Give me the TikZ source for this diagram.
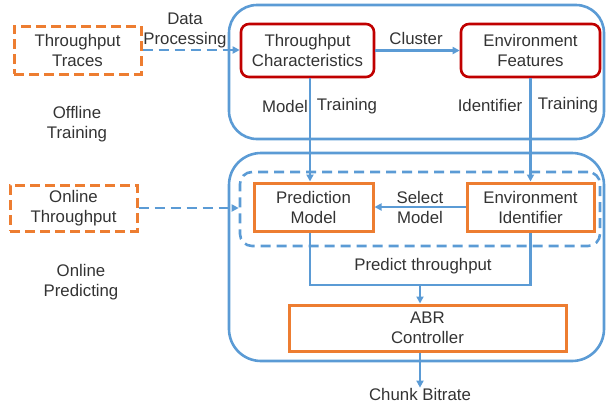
\documentclass[tikz,border=0pt]{standalone}
\usepackage{fontspec}
\setmainfont{Liberation Sans}
\usetikzlibrary{arrows.meta}
\definecolor{cblue}{HTML}{5B9BD5}
\definecolor{corange}{HTML}{ED7D31}
\definecolor{cred}{HTML}{C00000}
\definecolor{ctext}{HTML}{333333}
\begin{document}
\begin{tikzpicture}[x=1pt,y=-1pt,
  every node/.style={text=ctext,font=\fontsize{16.8}{20}\selectfont,align=center,inner sep=0pt},
  group/.style={draw=cblue,line width=2.6pt,rounded corners=28pt},
  redbox/.style={draw=cred,line width=2.6pt,rounded corners=8pt},
  orbox/.style={draw=corange,line width=3pt},
  ordash/.style={draw=corange,line width=3pt,dash pattern=on 10pt off 5pt},
  barrow/.style={draw=cblue,line width=2.4pt,-{Triangle[length=7pt,width=7pt]}},
  bline/.style={draw=cblue,line width=2.4pt},
  bdash/.style={draw=cblue,line width=2.6pt,dash pattern=on 10pt off 6pt,-{Triangle[length=7pt,width=7pt]}}
]
\useasboundingbox (0,0) rectangle (606,408);
% groups
\draw[group] (229,5) rectangle (604,139);
\draw[group,rounded corners=32pt] (229,153) rectangle (604,361);
\node[draw=cblue,line width=2.6pt,dash pattern=on 10pt off 6pt,rounded corners=12pt,minimum width=360pt,minimum height=74pt] (inner) at (420,209) {};
% boxes
\node[ordash,minimum width=127pt,minimum height=48pt] (tt) at (77.5,50) {Throughput\\Traces};
\node[ordash,minimum width=127pt,minimum height=46pt] (ot) at (73.5,208) {Online\\Throughput};
\node[redbox,minimum width=133pt,minimum height=53pt] (tc) at (307.5,50.5) {Throughput\\Characteristics};
\node[redbox,minimum width=139pt,minimum height=53pt] (ef) at (530.5,50.5) {Environment\\Features};
\node[orbox,minimum width=119pt,minimum height=48pt] (pm) at (313.5,207) {Prediction\\Model};
\node[orbox,minimum width=127pt,minimum height=48pt] (ei) at (530.5,207) {Environment\\Identifier};
\node[orbox,minimum width=277pt,minimum height=46pt] (abr) at (427.5,328) {ABR\\Controller};
% labels
\node (dp) at (185,30) {Data\\Processing};
\node (off) at (77,124) {Offline\\Training};
\node (onp) at (81,282) {Online\\Predicting};
\node (cl) at (416,38) {Cluster};
\node (ml) at (285,106) {Model};
\node (mtl) at (347,106) {Training};
\node (il) at (490,105) {Identifier};
\node (itl) at (568,105) {Training};
\node (sm) at (420,207) {Select\\Model};
\node (pt) at (423,266) {Predict throughput};
\node (cb) at (420,394) {Chunk Bitrate};
% connectors
\coordinate (mt) at (310,0);
\coordinate (pj) at (420,285);
\draw[bdash] (tt.east) -- (tt.east -| tc.west);
\draw[bdash] (ot.east) -- (ot.east -| inner.west);
\draw[barrow] (tc.east) -- (ef.west);
\draw[barrow] (mt |- tc.south) -- (mt |- pm.north);
\draw[barrow] (ef.south) -- (ei.north);
\draw[barrow] (ei.west) -- (pm.east);
\draw[bline] (mt |- pm.south) -- (mt |- pj) -- (ei.south |- pj) -- (ei.south);
\draw[barrow] (pj) -- (pj |- abr.north);
\draw[barrow] (pj |- abr.south) -- (cb.north);
\end{tikzpicture}
\end{document}
